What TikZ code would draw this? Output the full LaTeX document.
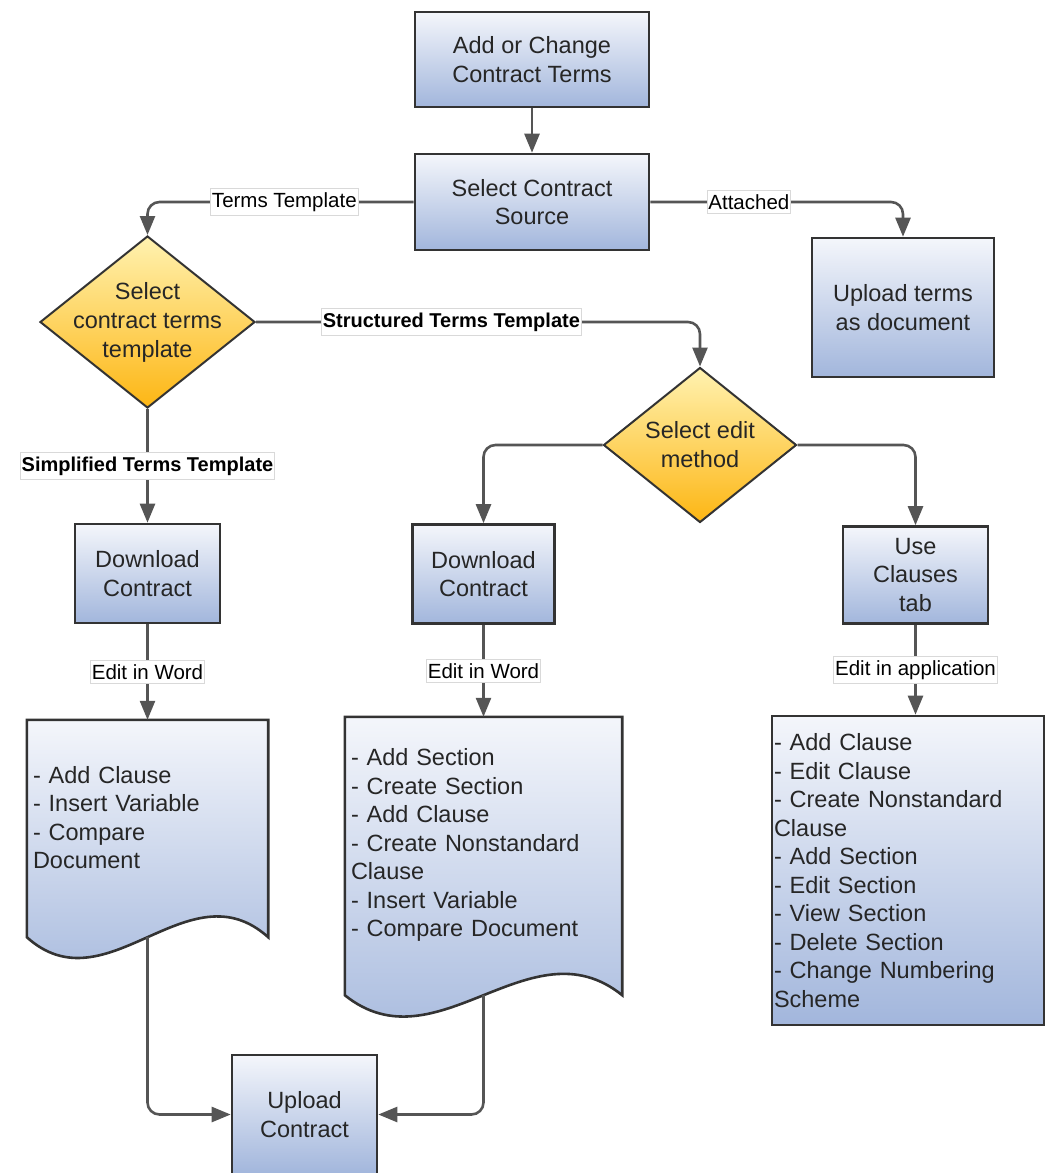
\documentclass[tikz,border=0pt]{standalone}
\usepackage{fontspec}
\setmainfont{Liberation Sans}
\usetikzlibrary{shapes.geometric,arrows.meta,backgrounds}
\definecolor{boxtop}{HTML}{F4F6FB}
\definecolor{boxbot}{HTML}{A2B6DC}
\definecolor{dectop}{HTML}{FFF2B0}
\definecolor{decbot}{HTML}{FDB614}
\definecolor{edgegray}{HTML}{555555}
\definecolor{framegray}{HTML}{333333}
\definecolor{txtgray}{HTML}{262626}
\begin{document}
\begin{tikzpicture}[x=1pt,y=-1pt,
  box/.style={draw=framegray, line width=2.6pt, top color=boxtop, bottom color=boxbot,
    align=center, text=txtgray, font=\fontsize{23.5}{28.5}\selectfont, inner sep=2pt},
  decision/.style={diamond, draw=framegray, line width=2pt, top color=dectop, bottom color=decbot,
    align=center, text=txtgray, font=\fontsize{23.5}{29}\selectfont, inner sep=-40pt},
  doc/.style={align=left, text=txtgray, font=\fontsize{23.5}{28.5}\selectfont, inner xsep=6pt, inner ysep=0pt},
  docshape/.style={draw=framegray, line width=2.6pt, top color=boxtop, bottom color=boxbot},
  lbl/.style={sharp corners, fill=white, draw=black!15, line width=0.8pt, text=black,
    font=\fontsize{20.5}{24}\selectfont, inner xsep=1.5pt, inner ysep=4pt},
  lblb/.style={lbl, font=\fontsize{20}{24}\selectfont\bfseries},
  conn/.style={draw=edgegray, line width=2.6pt, rounded corners=12pt, -{Triangle[length=19pt,width=15pt]}},
]
\useasboundingbox (0,0) rectangle (1047,1173);

% boxes
\node[box, minimum width=234, minimum height=95] (start) at (532,59.5) {Add or Change\\Contract Terms};
\node[box, minimum width=234, minimum height=96] (src) at (532,202) {Select Contract\\Source};
\node[box, minimum width=182, minimum height=139] (upTerms) at (903,307.5) {Upload terms\\as document};
\node[decision, minimum width=215, minimum height=172] (dia1) at (147.5,322) {Select\\contract terms\\template};
\node[decision, minimum width=193, minimum height=155] (dia2) at (700,445) {Select edit\\method};
\node[box, minimum width=145, minimum height=99] (dl1) at (147.5,573.5) {Download\\Contract};
\node[box, minimum width=142, minimum height=99] (dl2) at (483.5,574) {Download\\Contract};
\node[box, minimum width=145, minimum height=97] (clauses) at (915.5,575) {Use\\Clauses\\tab};

% documents
\node[doc, text width=229, minimum width=241, minimum height=195] (doc1) at (147.5,817.5)
  {- Add Clause\\- Insert Variable\\- Compare\\Document};
\node[doc, text width=265, minimum width=277, minimum height=256] (doc2) at (483.5,845)
  {- Add Section\\- Create Section\\- Add Clause\\- Create Nonstandard\\Clause\\- Insert Variable\\- Compare Document};
\node[box, align=left, text width=268, minimum height=309] (clist) at (908,870.5)
  {- Add Clause\\- Edit Clause\\- Create Nonstandard\\Clause\\- Add Section\\- Edit Section\\- View Section\\- Delete Section\\- Change Numbering\\Scheme};
\node[box, minimum width=145, minimum height=119] (upload) at (304.5,1114.5) {Upload\\Contract};

\coordinate (doc1b) at ([yshift=-22pt]doc1.south);
\coordinate (doc2b) at ([yshift=-22pt]doc2.south);
\begin{scope}[on background layer]
\path[docshape] (doc1.north west) -- (doc1.north east) -- ([yshift=-22pt]doc1.south east)
  .. controls +(-80,-72) and +(80,72) .. ([yshift=-22pt]doc1.south west) -- cycle;
\path[docshape] (doc2.north west) -- (doc2.north east) -- ([yshift=-22pt]doc2.south east)
  .. controls +(-92,-74) and +(92,74) .. ([yshift=-22pt]doc2.south west) -- cycle;
\end{scope}

% connectors
\draw[conn] (start.south) -- (src.north);
\draw[conn] (src.west) -| node[lbl, pos=0.243] (lTerms) {Terms Template} (dia1.north);
\draw[conn] (src.east) -| node[lbl, pos=0.195] (lAtt) {Attached} (upTerms.north);
\draw[conn] (dia1.east) -| node[lblb, pos=0.22] (lStruct) {Structured Terms Template} (dia2.north);
\draw[conn] (dia1.south) -- node[lblb] (lSimple) {Simplified Terms Template} (dl1.north);
\draw[conn] (dia2.west) -| (dl2.north);
\draw[conn] (dia2.east) -| (clauses.north);
\draw[conn] (dl1.south) -- node[lbl] (lWord1) {Edit in Word} (doc1.north);
\draw[conn] (dl2.south) -- node[lbl] (lWord2) {Edit in Word} (doc2.north);
\draw[conn] (clauses.south) -- node[lbl] (lApp) {Edit in application} (clauses.south |- clist.north);
\draw[conn] (doc1b) |- (upload.west);
\draw[conn] (doc2b) |- (upload.east);
\end{tikzpicture}
\end{document}
